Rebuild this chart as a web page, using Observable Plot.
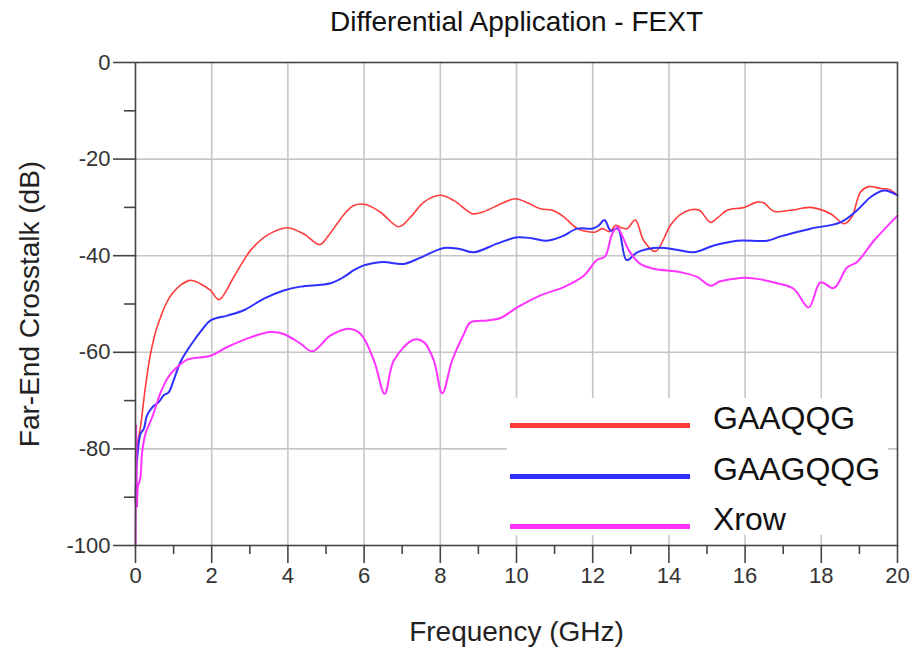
<!DOCTYPE html>
<html><head><meta charset="utf-8">
<script src="https://cdn.jsdelivr.net/npm/d3@7"></script>
<script src="https://cdn.jsdelivr.net/npm/@observablehq/plot@0.6"></script>
<style>
body{margin:0;background:#fff;font-family:"Liberation Sans",Arial,sans-serif;}
#wrap{position:relative;width:912px;height:648px;overflow:hidden;}
#legend{position:absolute;left:507px;top:398px;width:381px;height:137px;background:#fff;}
.swatch{position:absolute;left:3px;width:180px;height:5px;}
.lab{position:absolute;left:206px;font-size:32px;line-height:32px;color:#111;white-space:nowrap;}
</style></head><body><div id="wrap"></div>
<script>
const titleText = "Differential Application - FEXT";
const xLabel = "Frequency (GHz)";
const yLabel = "Far-End Crosstalk (dB)";
const seriesNames = ["GAAQQG", "GAAGQQG", "Xrow"];
const seriesColors = ["#ff3b3b", "#2f2fff", "#ff33ff"];
const seriesWidths = [1.6, 2, 2];

const xMajor = [0, 2, 4, 6, 8, 10, 12, 14, 16, 18, 20];
const xMinor = [1, 3, 5, 7, 9, 11, 13, 15, 17, 19];
const yMajor = [0, -20, -40, -60, -80, -100];
const yMinor = [-10, -30, -50, -70, -90];

// GAAQQG (red)
const redF = [0, 0.04, 0.13, 0.26, 0.39, 0.52, 0.66, 0.8, 0.96, 1.2, 1.44, 1.7, 1.97, 2.19, 2.58, 2.8, 3.02, 3.45, 3.98, 4.42, 4.83, 5.05, 5.29, 5.5, 5.73, 6.04, 6.43, 6.91, 7.22, 7.57, 8.0, 8.36, 8.84, 9.1, 9.58, 9.97, 10.3, 10.63, 10.94, 11.2, 11.6, 11.85, 12.07, 12.25, 12.45, 12.6, 12.75, 12.9, 13.12, 13.34, 13.65, 14.04, 14.3, 14.57, 14.8, 15.09, 15.3, 15.53, 15.97, 16.32, 16.5, 16.75, 17.2, 17.72, 18.24, 18.6, 18.8, 19.03, 19.25, 19.56, 19.78, 20];
const redDb = [-82, -79.6, -75.5, -67.2, -60.5, -56, -52.7, -50, -47.9, -46, -45.1, -45.8, -47.2, -49.1, -44.4, -41.5, -38.9, -35.8, -34.2, -35.5, -37.7, -36, -33.4, -31.2, -29.6, -29.4, -31.0, -34.0, -32.0, -28.9, -27.5, -28.6, -31.3, -31.0, -29.3, -28.2, -29.1, -30.3, -30.6, -31.7, -34.4, -35.0, -35.1, -34.4, -35, -33.7, -34.2, -34.4, -32.6, -36.9, -39.1, -33.7, -31.5, -30.5, -30.6, -33.1, -32, -30.6, -30.0, -28.9, -29.1, -30.8, -30.6, -30.0, -31.3, -33.4, -32, -26.8, -25.7, -26.1, -26.3, -27.5];

// GAAGQQG (blue)
const blueF = [0, 0.04, 0.13, 0.22, 0.3, 0.44, 0.61, 0.74, 0.87, 1.0, 1.18, 1.35, 1.53, 1.75, 1.97, 2.41, 2.84, 3.37, 3.89, 4.33, 5.12, 5.47, 5.73, 5.99, 6.26, 6.52, 7.04, 7.48, 8.09, 8.5, 8.88, 9.49, 10.02, 10.4, 10.8, 11.2, 11.59, 11.98, 12.15, 12.31, 12.47, 12.66, 12.89, 13.17, 13.6, 13.9, 14.3, 14.65, 15.18, 15.79, 16.58, 16.93, 17.72, 18.5, 18.94, 19.29, 19.64, 20];
const blueDb = [-91, -82.4, -76.9, -75.8, -73.1, -71.4, -70.3, -68.9, -68.3, -65.8, -62.0, -59.7, -57.6, -55.3, -53.4, -52.4, -51.3, -48.9, -47.2, -46.4, -45.7, -44.4, -43, -42.0, -41.5, -41.3, -41.7, -40.4, -38.4, -38.6, -39.3, -37.5, -36.2, -36.4, -36.9, -36, -34.4, -34.4, -33.8, -32.6, -34.8, -34.4, -40.9, -39.3, -38.4, -38.4, -38.9, -39.3, -37.9, -36.9, -36.9, -36.0, -34.4, -33.1, -30.6, -27.9, -26.5, -27.5];

// Xrow (magenta)
const magF = [0, 0.02, 0.04, 0.06, 0.13, 0.17, 0.26, 0.44, 0.66, 0.87, 1.05, 1.36, 1.97, 2.41, 3.02, 3.54, 3.89, 4.33, 4.64, 5.12, 5.6, 5.91, 6.26, 6.54, 6.78, 7.3, 7.57, 7.83, 8.05, 8.31, 8.62, 8.79, 9.23, 9.58, 10.02, 10.63, 11.24, 11.77, 12.11, 12.32, 12.51, 12.64, 12.77, 12.95, 13.25, 13.6, 14.3, 14.74, 15.09, 15.35, 15.88, 16.32, 16.84, 17.28, 17.67, 17.98, 18.33, 18.68, 18.94, 19.38, 20];
const magDb = [-100, -75, -92, -88, -85.9, -81, -76.9, -73.4, -68.3, -65, -63.4, -61.5, -60.7, -58.9, -56.9, -55.8, -56.2, -58.2, -59.8, -56.5, -55.1, -56.2, -61.7, -68.6, -61.7, -57.4, -57.9, -61.7, -68.5, -61.7, -56.2, -53.8, -53.4, -52.9, -50.7, -48.2, -46.5, -44.1, -40.9, -40.2, -35.5, -34.1, -35.8, -38.9, -41.7, -42.7, -43.4, -44.4, -46.2, -45.3, -44.6, -44.8, -45.7, -46.9, -50.7, -45.5, -46.7, -42.4, -41.3, -36.9, -31.7];

const seriesF = [redF, blueF, magF];
const seriesDb = [redDb, blueDb, magDb];

const font = "'Liberation Sans', Arial, sans-serif";
const axisColor = "#444";
const gridColor = "#c6c6c6";
const plainFormat = d => String(d);

const lineMarks = seriesNames.map((name, i) =>
  Plot.line(seriesF[i].map((f, j) => ({f, db: seriesDb[i][j]})), {
    x: "f", y: "db", stroke: seriesColors[i], strokeWidth: seriesWidths[i], curve: "catmull-rom"
  })
);

const chart = Plot.plot({
  width: 912, height: 648,
  marginLeft: 135, marginRight: 15, marginTop: 62, marginBottom: 103,
  x: {domain: [0, 20]},
  y: {domain: [-100, 0]},
  style: {fontFamily: font, background: "#fff", color: "#333", overflow: "visible"},
  marks: [
    Plot.gridX(xMajor.filter(v => v > 0 && v < 20), {stroke: gridColor, strokeOpacity: 1, strokeWidth: 1.6}),
    Plot.gridY(yMajor.filter(v => v > -100 && v < 0), {stroke: gridColor, strokeOpacity: 1, strokeWidth: 1.6}),
    ...lineMarks,
    Plot.frame({stroke: axisColor, strokeWidth: 1.6}),
    Plot.axisX(xMajor, {tickSize: 18, tickPadding: 4, fontSize: 22, stroke: axisColor, strokeWidth: 1.6, fill: "#333", label: null, tickFormat: plainFormat}),
    Plot.axisX(xMinor, {tickSize: 9, text: null, stroke: axisColor, strokeWidth: 1.6, label: null}),
    Plot.axisY(yMajor, {tickSize: 22, tickPadding: 3, fontSize: 22, stroke: axisColor, strokeWidth: 1.6, fill: "#333", label: null, tickFormat: plainFormat}),
    Plot.axisY(yMinor, {tickSize: 11, text: null, stroke: axisColor, strokeWidth: 1.6, label: null}),
    Plot.text([titleText], {frameAnchor: "top", dy: -40, fontSize: 28, fill: "#111", lineAnchor: "middle", textAnchor: "middle"}),
    Plot.text([xLabel], {frameAnchor: "bottom", dy: 87, fontSize: 28, fill: "#222", lineAnchor: "middle", textAnchor: "middle"}),
    Plot.text([yLabel], {frameAnchor: "left", dx: -105, rotate: -90, fontSize: 28, fill: "#222", lineAnchor: "middle", textAnchor: "middle"})
  ]
});

const wrap = document.getElementById("wrap");
wrap.appendChild(chart);

const legend = document.createElement("div");
legend.id = "legend";
seriesNames.forEach((name, i) => {
  const sw = document.createElement("div");
  sw.className = "swatch";
  sw.style.top = (25 + i * 50.5) + "px";
  sw.style.background = seriesColors[i];
  legend.appendChild(sw);
  const lb = document.createElement("div");
  lb.className = "lab";
  lb.style.top = (4 + i * 50.5) + "px";
  lb.textContent = name;
  legend.appendChild(lb);
});
wrap.appendChild(legend);
</script>
</body></html>
